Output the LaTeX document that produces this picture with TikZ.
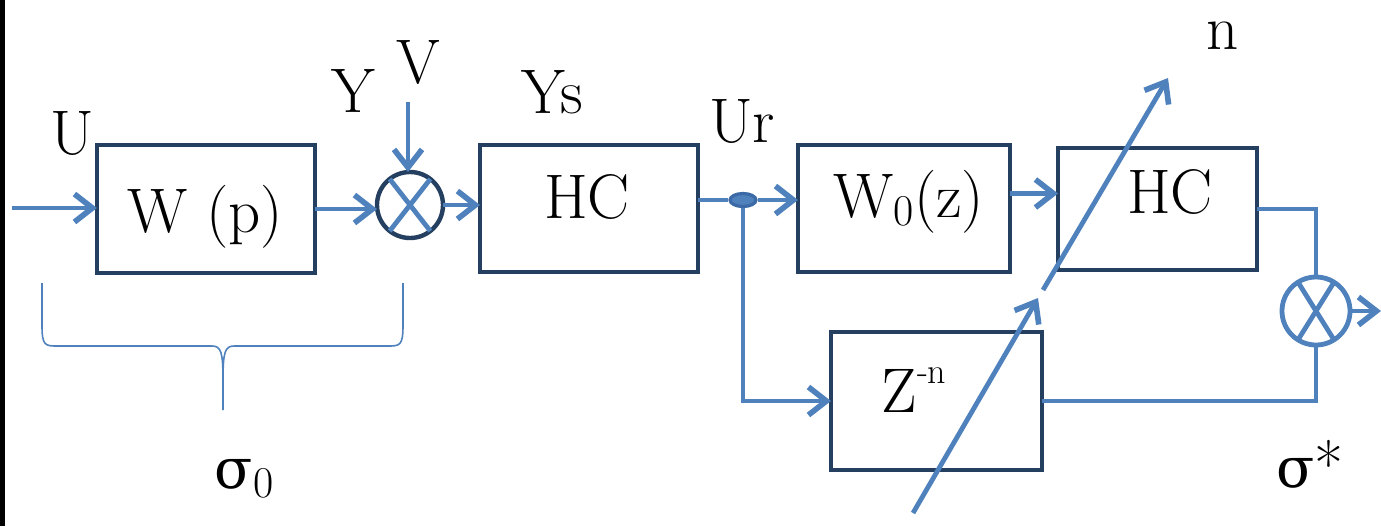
\documentclass[tikz,border=0pt]{standalone}
\usepackage{fontspec}
\newfontfamily\dvs{DejaVu Serif}
\usetikzlibrary{arrows.meta,calc,shapes.geometric}
\definecolor{lblue}{HTML}{4F81BD}
\definecolor{navy}{HTML}{243F60}
\definecolor{jblue}{HTML}{3C6AA6}
\newcommand\sig{{\dvs\fontsize{28}{34}\selectfont σ}}
\begin{document}
\begin{tikzpicture}[x=0.5pt,y=-0.5pt,
  blk/.style={draw=navy,line width=2.2pt,rectangle,inner sep=0pt,outer sep=0pt},
  sumc/.style={circle,inner sep=0pt,outer sep=0pt},
  conn/.style={draw=lblue,line width=2.4pt},
  arr/.style={conn,-{Straight Barb[length=9pt,width=14pt,line width=2.8pt]}},
  txt/.style={anchor=base,inner sep=0pt,font=\fontsize{31.5}{38}\selectfont},
  brace/.style={draw=lblue,line width=0.8pt}]
\useasboundingbox (0,0) rectangle (1381,526);
\fill[black] (0,0) rectangle (5,526);

% blocks
\node[blk,minimum width=109pt,minimum height=64pt] (wp) at (206,209) {};
\node[blk,minimum width=109pt,minimum height=63.5pt] (hc1) at (589,208.5) {};
\node[blk,minimum width=106pt,minimum height=63.5pt] (w0) at (904,208.5) {};
\node[blk,minimum width=99.5pt,minimum height=61pt] (hc2) at (1157.5,209) {};
\node[blk,minimum width=105.5pt,minimum height=69pt] (zn) at (936.5,401) {};

% summing junctions
\node[sumc,draw=navy,line width=2.2pt,minimum size=33pt] (s1) at (410,205) {};
\draw[conn] (s1.52) -- (s1.232) (s1.128) -- (s1.308);
\node[sumc,draw=lblue,line width=2.4pt,minimum size=34pt] (s2) at (1316,311) {};
\draw[conn] (s2.58) -- (s2.238) (s2.122) -- (s2.302);

% junction dot
\coordinate (j) at (743,200);
\node[ellipse,draw=jblue,fill=lblue,line width=1.6pt,minimum width=13pt,minimum height=6.5pt,inner sep=0pt] (jd) at (j) {};

% texts
\node[txt] (twp) at (205,232) {W (p)};
\node[txt] (thc1) at (587,218) {HC};
\node[txt] (tw0) at (909,217) {W\raisebox{-4pt}{\fontsize{22}{0}\selectfont 0}(z)};
\node[txt] (thc2) at (1170,213) {HC};
\node[txt] (tzn) at (914,412) {Z\raisebox{14.5pt}{\fontsize{18}{0}\selectfont -n}};
\node[txt] (tU) at (72,154) {U};
\node[txt] (tY) at (353,112) {Y};
\node[txt] (tV) at (418,83) {V};
\node[txt] (tYs) at (552,113) {Ys};
\node[txt] (tUr) at (742,142) {Ur};
\node[txt] (tn) at (1223,49) {n};
\node[txt] (tsig0) at (244,488) {\sig\raisebox{-4.5pt}{\fontsize{22}{0}\selectfont 0}};
\node[txt] (tsigs) at (1310,487) {\sig*};

% coordinates
\coordinate (in) at (12,208);
\coordinate (vtop) at (408,102);
\coordinate (out) at (1381,311);
\coordinate (d1s) at (913,513);
\coordinate (d1e) at (1038,298);
\coordinate (d2s) at (1043,290);
\coordinate (d2e) at (1168,78);

% connectors
\draw[arr] (in) -- (in -| wp.west);
\draw[arr] (wp.east) -- (wp.east -| s1.west);
\draw[arr] (s1.east) -- (s1.east -| hc1.west);
\draw[arr] (vtop) -- (vtop |- s1.north);
\draw[conn] (hc1.east |- j) -- (jd.west);
\draw[arr] (jd.east) -- (j -| w0.west);
\draw[arr] (jd.south) |- (zn.west);
\draw[arr] ([yshift=7.5pt]w0.east) -- ([yshift=7.5pt]w0.east -| hc2.west);
\draw[conn] (hc2.east) -| (s2.north);
\draw[conn] (zn.east) -| (s2.south);
\draw[arr] (s2.east) -- (out);
\draw[arr] (d1s) -- (d1e);
\draw[arr] (d2s) -- (d2e);

% brace
\draw[brace] (42,283) -- (42,325) .. controls (42,346) and (45,346) .. (58,346) -- (212,346)
  .. controls (221,346) and (223,352) .. (223,380) -- (223,410);
\draw[brace] (403,283) -- (403,325) .. controls (403,346) and (400,346) .. (387,346) -- (234,346)
  .. controls (225,346) and (223,352) .. (223,380);
\end{tikzpicture}
\end{document}
